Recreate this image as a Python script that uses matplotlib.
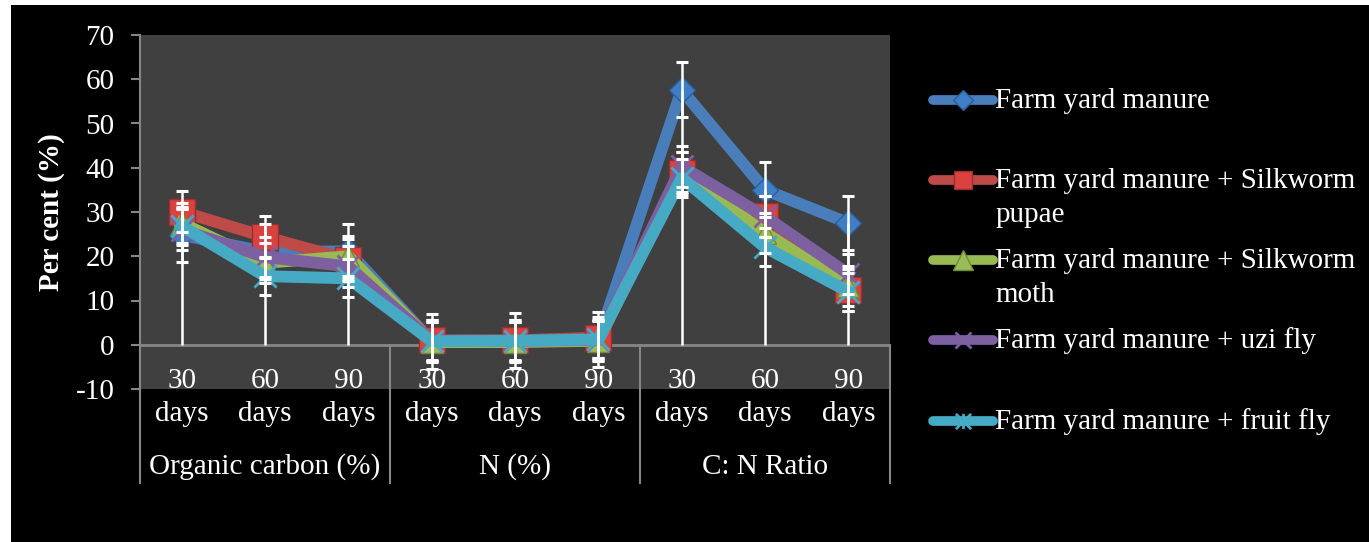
import numpy as np
import matplotlib
matplotlib.use("Agg")
import matplotlib.pyplot as plt
from matplotlib.lines import Line2D
from matplotlib.patches import Rectangle
from matplotlib.path import Path
from matplotlib.legend_handler import HandlerLine2D

# ---------------- data ----------------
groups = ["Organic carbon (%)", "N (%)", "C: N Ratio"]
periods = ["30", "60", "90"]
period_unit = "days"
series_names = [
    "Farm yard manure",
    "Farm yard manure + Silkworm\npupae",
    "Farm yard manure + Silkworm\nmoth",
    "Farm yard manure + uzi fly",
    "Farm yard manure + fruit fly",
]
fym = [24.8, 21.0, 21.1, 0.8, 0.9, 1.2, 57.6, 35.0, 27.5]
fym_pupae = [30.1, 24.4, 19.2, 1.0, 1.0, 1.6, 38.8, 29.0, 12.4]
fym_moth = [27.5, 18.5, 20.0, 0.6, 0.6, 0.9, 39.0, 25.3, 13.3]
fym_uzi = [26.0, 19.8, 17.7, 0.9, 0.9, 1.1, 40.3, 29.0, 16.0]
fym_fruit = [26.8, 15.5, 15.0, 0.8, 0.9, 1.2, 37.7, 22.0, 12.0]
std_err = [6.2, 4.7, 4.5, 4.6, 4.3]
y_ticks = [-10, 0, 10, 20, 30, 40, 50, 60, 70]

series_values = [fym, fym_pupae, fym_moth, fym_uzi, fym_fruit]

# ---------------- style ----------------
W, H = 1369, 542
FONT = "Liberation Serif"
FS = 21
line_colors = ["#4A7EBB", "#BE4B48", "#98B954", "#7D60A0", "#46AAC5"]
face_colors = ["#3F7DC6", "#D9423F", "#9BBB59", "#7D60A0", "#46AAC5"]
edge_colors = ["#2C5D97", "#9A2F2C", "#6E8C37", "#7D60A0", "#46AAC5"]
star = Path([(-1, -1), (1, 1), (-1, 1), (1, -1), (0, -1), (0, 1)],
            [Path.MOVETO, Path.LINETO, Path.MOVETO, Path.LINETO, Path.MOVETO, Path.LINETO])
markers = ["D", "s", "^", "x", star]
msizes = [13.5, 18.5, 16, 16, 16]
mews = [1, 1, 1, 2, 2]
leg_ms = [10, 13, 14, 11, 11]
grid_col = "#868686"

plt.rcParams["font.family"] = [FONT, "DejaVu Sans"]

fig = plt.figure(figsize=(W / 100, H / 100), dpi=100, facecolor="white")
fig.add_artist(Rectangle((11 / W, 0), 1 - 11 / W, 1 - 5 / H, transform=fig.transFigure,
                         facecolor="black", edgecolor="none", zorder=-10))

ax = fig.add_axes([140 / W, 153 / H, 750 / W, 354 / H])
ax.set_facecolor("#404040")

n_cat = len(groups) * len(periods)
x = np.arange(n_cat)

for i, vals in enumerate(series_values):
    ax.plot(x, vals, color=line_colors[i], lw=8.5, solid_joinstyle="round",
            marker=markers[i], ms=msizes[i], mfc=face_colors[i], mec=edge_colors[i],
            mew=mews[i], zorder=3 + i)

# error bars (standard error) and drop lines
for i, vals in enumerate(series_values):
    ax.errorbar(x, vals, yerr=std_err[i], fmt="none", ecolor="white", elinewidth=1.8,
                capsize=4.4, capthick=2.2, zorder=10)
drop_top = np.max(np.array(series_values), axis=0)
ax.vlines(x, 0, drop_top, color="white", lw=1.8, zorder=10)

ax.set_xlim(-0.5, n_cat - 0.5)
ax.set_ylim(y_ticks[0], y_ticks[-1])
ax.set_yticks(y_ticks)
ax.set_yticklabels([str(t) for t in y_ticks], fontsize=FS, color="white", family=FONT)
ax.tick_params(axis="y", direction="out", length=6.5, width=1.5, color=grid_col, pad=12)
ax.set_xticks([])
for s in ["top", "right", "bottom"]:
    ax.spines[s].set_visible(False)
ax.spines["left"].set_color(grid_col)
ax.spines["left"].set_linewidth(1.5)
ax.axhline(0, color=grid_col, lw=2, zorder=2)

# category axis (multi-level)
tr = ax.get_xaxis_transform()
zero_frac = (0 - y_ticks[0]) / (y_ticks[-1] - y_ticks[0])
sep_bottom = -0.266
for g in range(len(groups) + 1):
    xs = g * len(periods) - 0.5
    ax.add_line(Line2D([xs, xs], [sep_bottom, zero_frac], transform=tr, color=grid_col,
                       lw=1.5, clip_on=False, zorder=2))
for g, gname in enumerate(groups):
    for p, per in enumerate(periods):
        xi = g * len(periods) + p
        ax.text(xi, 0.003, per, transform=tr, ha="center", va="baseline",
                fontsize=FS, color="white", family=FONT)
        ax.text(xi, -0.0895, period_unit, transform=tr, ha="center", va="baseline",
                fontsize=FS, color="white", family=FONT)
    ax.text(g * len(periods) + (len(periods) - 1) / 2, -0.24, gname, transform=tr,
            ha="center", va="baseline", fontsize=FS, color="white", family=FONT)

ax.set_ylabel("Per cent (%)", fontsize=FS, fontweight="bold", color="white", family=FONT)
ax.yaxis.set_label_coords(-0.1, 0.5)


# ---------------- legend ----------------
class FirstLineHandler(HandlerLine2D):
    def __init__(self, shift=0.0, **kw):
        super().__init__(**kw)
        self.shift = shift

    def create_artists(self, legend, orig_handle, xdescent, ydescent, width, height,
                       fontsize, trans):
        arts = super().create_artists(legend, orig_handle, xdescent, ydescent, width,
                                      height, fontsize, trans)
        for a in arts:
            a.set_ydata(np.asarray(a.get_ydata()) + self.shift * fontsize)
        return arts


handles = []
labels = []
for i, name in enumerate(series_names):
    handles.append(Line2D([], [], color=line_colors[i], lw=7, solid_capstyle="round",
                          marker=markers[i], ms=leg_ms[i], mfc=face_colors[i],
                          mec=edge_colors[i], mew=mews[i]))
    labels.append(name if "\n" in name else name + "\n")

hmap = {h: FirstLineHandler(shift=0.6) for h in handles}
leg = fig.legend(handles, labels, loc="upper left", bbox_to_anchor=(933 / W, 1 - 88 / H),
                 bbox_transform=fig.transFigure, frameon=False, borderpad=0,
                 borderaxespad=0, handlelength=2.05, handletextpad=0.08, labelspacing=0.68,
                 numpoints=1, handler_map=hmap, prop={"family": FONT, "size": FS})
for t in leg.get_texts():
    t.set_color("white")
    t.set_linespacing(1.4)

fig.savefig("out.png", dpi=100, facecolor="white")
